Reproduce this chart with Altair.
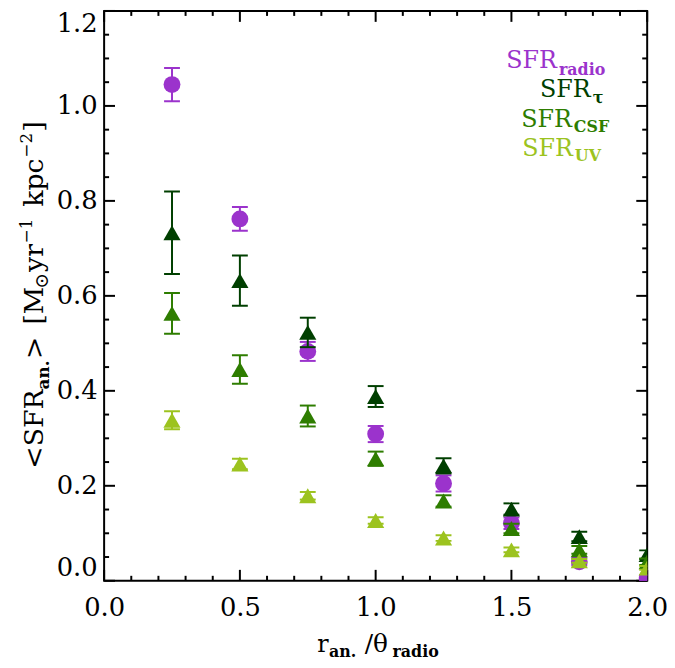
import altair as alt
import pandas as pd

# ---------------- data ----------------
x_vals = [0.25, 0.5, 0.75, 1.0, 1.25, 1.5, 1.75, 2.0]

v_radio = [1.045, 0.762, 0.483, 0.309, 0.205, 0.121, 0.040, 0.006]
e_radio = [0.035, 0.025, 0.020, 0.017, 0.017, 0.012, 0.008, 0.006]

v_tau = [0.733, 0.632, 0.523, 0.388, 0.242, 0.151, 0.093, 0.055]
e_tau = [0.087, 0.053, 0.031, 0.022, 0.016, 0.012, 0.010, 0.009]

v_csf = [0.563, 0.445, 0.347, 0.257, 0.168, 0.110, 0.065, 0.040]
e_csf = [0.043, 0.030, 0.022, 0.015, 0.012, 0.010, 0.008, 0.007]

v_uv = [0.338, 0.246, 0.179, 0.127, 0.090, 0.065, 0.042, 0.027]
e_uv = [0.019, 0.011, 0.008, 0.007, 0.006, 0.005, 0.004, 0.004]

series_names = ["radio", "tau", "CSF", "UV"]
series_colors = ["#9B33CC", "#003F00", "#2E7D00", "#9CC31F"]
series_shapes = ["circle", "triangle-up", "triangle-up", "triangle-up"]
legend_main = ["SFR", "SFR", "SFR", "SFR"]
legend_sub = ["radio", "τ", "CSF", "UV"]

x_major = [0.0, 0.5, 1.0, 1.5, 2.0]
x_minor = [0.1, 0.2, 0.3, 0.4, 0.6, 0.7, 0.8, 0.9, 1.1, 1.2, 1.3, 1.4, 1.6, 1.7, 1.8, 1.9]
y_major = [0.0, 0.2, 0.4, 0.6, 0.8, 1.0, 1.2]
y_minor = [0.05, 0.1, 0.15, 0.25, 0.3, 0.35, 0.45, 0.5, 0.55, 0.65, 0.7, 0.75,
           0.85, 0.9, 0.95, 1.05, 1.1, 1.15]

# ---------------- layout ----------------
W, H = 548, 575
FONT = "DejaVu Serif"

xscale = alt.Scale(domain=[0, 2.0], nice=False, zero=False)
yscale = alt.Scale(domain=[0, 1.2], nice=False, zero=False)

xaxis = alt.Axis(values=x_major, format=".1f", ticks=False, domain=False, grid=False,
                 labelFont=FONT, labelFontSize=26, labelColor="black", labelPadding=14,
                 labelFlush=False, labelOverlap=False, title=None)
yaxis = alt.Axis(values=y_major, format=".1f", ticks=False, domain=False, grid=False,
                 labelFont=FONT, labelFontSize=26, labelColor="black", labelPadding=7,
                 labelFlush=True, labelOverlap=False, title=None)

layers = []


def xticks(vals, length):
    d = pd.DataFrame({"t": vals})
    bot = alt.Chart(d).mark_rule(color="black", strokeWidth=2).encode(
        x=alt.X("t:Q", scale=xscale, axis=xaxis),
        y=alt.value(H), y2=alt.value(H - length))
    top = alt.Chart(d).mark_rule(color="black", strokeWidth=2).encode(
        x=alt.X("t:Q", scale=xscale, axis=xaxis),
        y=alt.value(0), y2=alt.value(length))
    return [bot, top]


def yticks(vals, length):
    d = pd.DataFrame({"t": vals})
    left = alt.Chart(d).mark_rule(color="black", strokeWidth=2).encode(
        y=alt.Y("t:Q", scale=yscale, axis=yaxis),
        x=alt.value(0), x2=alt.value(length))
    right = alt.Chart(d).mark_rule(color="black", strokeWidth=2).encode(
        y=alt.Y("t:Q", scale=yscale, axis=yaxis),
        x=alt.value(W), x2=alt.value(W - length))
    return [left, right]


layers += xticks(x_major, 11) + xticks(x_minor, 5)
layers += yticks(y_major, 11) + yticks(y_minor, 5)

all_vals = [v_radio, v_tau, v_csf, v_uv]
all_errs = [e_radio, e_tau, e_csf, e_uv]

for name, vals, errs, color, shape in zip(series_names, all_vals, all_errs,
                                          series_colors, series_shapes):
    df = pd.DataFrame({
        "x": x_vals,
        "v": vals,
        "lo": [v - e for v, e in zip(vals, errs)],
        "hi": [v + e for v, e in zip(vals, errs)],
    })
    base = alt.Chart(df)
    X = alt.X("x:Q", scale=xscale, axis=xaxis)
    rule = base.mark_rule(color=color, strokeWidth=2, clip=True).encode(
        x=X, y=alt.Y("lo:Q", scale=yscale, axis=yaxis), y2="hi:Q")
    cap_lo = base.mark_tick(color=color, orient="horizontal", size=16, thickness=2,
                            opacity=1, clip=True).encode(
        x=X, y=alt.Y("lo:Q", scale=yscale, axis=yaxis))
    cap_hi = base.mark_tick(color=color, orient="horizontal", size=16, thickness=2,
                            opacity=1, clip=True).encode(
        x=X, y=alt.Y("hi:Q", scale=yscale, axis=yaxis))
    size = 289 if shape == "circle" else 300
    pts = base.mark_point(shape=shape, filled=True, size=size, color=color,
                          opacity=1, strokeWidth=0, clip=True).encode(
        x=X, y=alt.Y("v:Q", scale=yscale, axis=yaxis))
    layers += [rule, cap_lo, cap_hi, pts]

one = pd.DataFrame({"a": [0]})


def txt(text, x, y, size, color="black", weight="normal", align="left", angle=0):
    kw = dict(text=text, font=FONT, fontSize=size, fontWeight=weight, color=color,
              align=align, baseline="alphabetic")
    if angle:
        kw["angle"] = angle
    return alt.Chart(one).mark_text(**kw).encode(x=alt.value(x), y=alt.value(y))


# legend (text annotations)
leg_pos = [(457, 58), (491, 87), (472, 117), (473, 146)]
sub_dy = [7, 6, 5, 5]
for main, sub, color, (px, py), dy in zip(legend_main, legend_sub, series_colors, leg_pos, sub_dy):
    layers.append(txt(main, px, py, 24, color, align="right"))
    layers.append(txt(sub, px + 2, py + dy, 16, color, weight="bold"))

# x-axis title: r_an. / theta_radio
layers.append(txt("r", 215, 647, 24))
layers.append(txt("an.", 227, 652, 16, weight="bold"))
layers.append(txt("/θ", 263, 647, 25))
layers.append(txt("radio", 291, 652, 16, weight="bold"))

# y-axis title, rotated, built from pieces (text, size, weight, baseline shift, gap after)
adv = {"<": 0.838, ">": 0.838, "S": 0.686, "F": 0.674, "R": 0.766, "a": 0.675, "n": 0.76,
       ".": 0.38, "[": 0.39, "]": 0.39, "M": 0.951, "⊙": 0.838, "y": 0.586,
       "r": 0.478, "k": 0.627, "p": 0.644, "c": 0.563, "−": 0.838, "1": 0.636, "2": 0.636}
pieces = [("<SFR", 27, "normal", 0, 0), ("an.", 17, "bold", 6, 0), (">", 27, "normal", 0, 12),
          ("[M", 27, "normal", 0, 0), ("⊙", 19, "normal", 5, 1), ("yr", 27, "normal", 0, 0),
          ("−1", 17, "normal", -11, 12), ("kpc", 27, "normal", 0, 0), ("−2", 17, "normal", -11, 1),
          ("]", 27, "normal", 0, 0)]
ypos = 470 - 8
base_x = -62
for t, fs, fw, shift, gap in pieces:
    layers.append(txt(t, base_x + shift, ypos, fs, weight=fw, angle=270))
    ypos -= sum(adv.get(c, 0.6) for c in t) * fs + gap

chart = alt.layer(*layers).properties(
    width=W, height=H,
    autosize=alt.AutoSizeParams(type="none"),
    padding={"left": 97, "top": 0, "right": 20, "bottom": 80},
    background="white",
).configure_view(stroke="black", strokeWidth=2)

chart.save("out.html", embed_options={"renderer": "svg", "actions": False})
